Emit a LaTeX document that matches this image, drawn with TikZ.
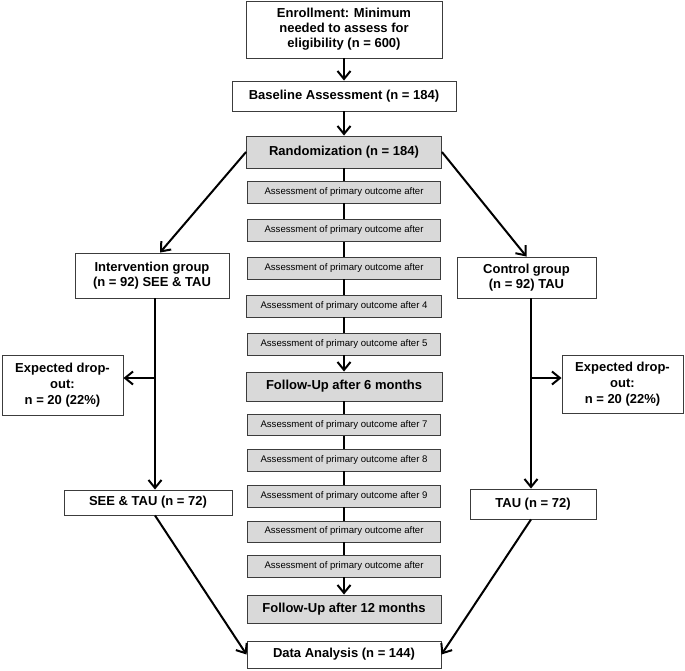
\documentclass[tikz,border=0pt]{standalone}
\usepackage{fontspec}
\setmainfont{Liberation Sans}
\usetikzlibrary{arrows.meta}
\definecolor{boxGray}{RGB}{217,217,217}
\definecolor{rimGray}{RGB}{60,60,60}

\begin{document}
\begin{tikzpicture}[x=1pt,y=-1pt,
	box/.style={draw=rimGray, line width=0.9pt, inner sep=0pt, align=center, font=\fontsize{13}{15}\selectfont\bfseries},
	greybox/.style={box, fill=boxGray},
	smallbox/.style={greybox, font=\fontsize{9.6}{11}\selectfont, minimum width=193pt, minimum height=22pt},
	>={Straight Barb[length=8pt,width=13pt]}, line width=2pt]
			\useasboundingbox (0,0) rectangle (685,670);

			% main column
			\draw (344,29.5) node[box, minimum width=196pt, minimum height=57pt] (enrol) {Enrollment: Minimum\\needed to assess for\\eligibility (n = 600)};
			\draw (344,96) node[box, minimum width=224pt, minimum height=30pt] (base) {Baseline Assessment (n = 184)};
			\draw (344,152) node[greybox, minimum width=195pt, minimum height=32pt] (rand) {Randomization (n = 184)};
			\draw (344,192) node[smallbox] (a1) {Assessment of primary outcome after};
			\draw (344,230.5) node[smallbox] (a2) {Assessment of primary outcome after};
			\draw (344,268) node[smallbox] (a3) {Assessment of primary outcome after};
			\draw (344,306) node[smallbox, minimum width=195pt] (a4) {Assessment of primary outcome after 4};
			\draw (344,344) node[smallbox] (a5) {Assessment of primary outcome after 5};
			\draw (344,386.5) node[greybox, minimum width=196pt, minimum height=29pt] (fu6) {Follow-Up after 6 months};
			\draw (344,425) node[smallbox, minimum height=21pt] (a7) {Assessment of primary outcome after 7};
			\draw (344,460) node[smallbox] (a8) {Assessment of primary outcome after 8};
			\draw (344,496) node[smallbox] (a9) {Assessment of primary outcome after 9};
			\draw (344,531.5) node[smallbox, minimum height=21pt] (a10) {Assessment of primary outcome after};
			\draw (344,566) node[smallbox] (a11) {Assessment of primary outcome after};
			\draw (344,609) node[greybox, minimum width=194pt, minimum height=28pt] (fu12) {Follow-Up after 12 months};
			\draw (344,654.5) node[box, minimum width=194pt, minimum height=27pt] (da) {Data Analysis (n = 144)};

			% intervention arm
			\draw (152,275.5) node[box, minimum width=154pt, minimum height=45pt] (int) {Intervention group\\(n = 92) SEE \& TAU};
			\draw (62.5,385) node[box, minimum width=121pt, minimum height=60pt, font=\fontsize{13}{16}\selectfont\bfseries] (dropL) {Expected drop-\\out:\\n = 20 (22\%)};
			\draw (148,502.5) node[box, minimum width=168pt, minimum height=25pt] (see) {SEE \& TAU (n = 72)};

			% control arm
			\draw (526.5,277.5) node[box, minimum width=139pt, minimum height=41pt] (ctrl) {Control group\\(n = 92) TAU};
			\draw (622.5,384) node[box, minimum width=121pt, minimum height=58pt, font=\fontsize{13}{16}\selectfont\bfseries] (dropR) {Expected drop-\\out:\\n = 20 (22\%)};
			\draw (533,504) node[box, minimum width=126pt, minimum height=30pt] (tau) {TAU (n = 72)};

			\coordinate (lx) at (155,378);
			\coordinate (rx) at (531,378);

			\path[->]
			(enrol) edge (base)
			(base) edge (rand)
			(a5) edge (fu6)
			(a11) edge (fu12)
			(rand.west) edge ([xshift=8pt]int.north)
			(rand.east) edge (ctrl.north)
			(int.south -| lx) edge (see.north -| lx)
			(ctrl.south -| rx) edge (tau.north -| rx)
			(lx) edge (lx -| dropL.east)
			(rx) edge (rx -| dropR.west)
			(see.south -| lx) edge (da.west)
			(tau.south -| rx) edge (da.east)
			;
			\path
			(rand) edge (a1)
			(a1) edge (a2)
			(a2) edge (a3)
			(a3) edge (a4)
			(a4) edge (a5)
			(fu6) edge (a7)
			(a7) edge (a8)
			(a8) edge (a9)
			(a9) edge (a10)
			(a10) edge (a11)
			;
		\end{tikzpicture}
\end{document}
